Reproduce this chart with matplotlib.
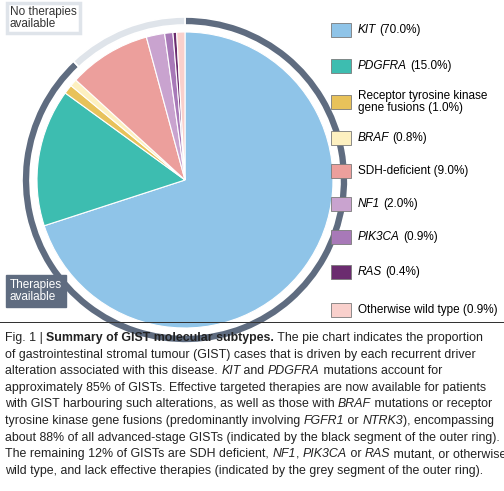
import matplotlib
matplotlib.use("Agg")
import matplotlib.pyplot as plt
from matplotlib.patches import Rectangle

plt.rcParams['font.family'] = ['Liberation Sans', 'DejaVu Sans']

labels = ["KIT", "PDGFRA", "Receptor tyrosine kinase\ngene fusions", "BRAF", "SDH-deficient",
          "NF1", "PIK3CA", "RAS", "Otherwise wild type"]
values = [70.0, 15.0, 1.0, 0.8, 9.0, 2.0, 0.9, 0.4, 0.9]
italic = [True, True, False, True, False, True, True, True, False]
colors = ["#8fc4e8", "#3dbdb0", "#e8c25a", "#fdf0c0", "#ec9f9c", "#c9a3cf", "#a879b8", "#6b2c6f", "#f9d0cc"]
ring_values = [88, 12]
ring_colors = ["#5f6c80", "#dfe4ea"]

W, H = 504, 491
fig = plt.figure(figsize=(W / 100, H / 100), dpi=100)

cx, cy, half = 185, 180, 170
ax = fig.add_axes([(cx - half) / W, (H - cy - half) / H, 2 * half / W, 2 * half / H])
ax.pie(values, colors=colors, radius=148, startangle=90, counterclock=False,
       wedgeprops=dict(edgecolor='white', linewidth=0.8))
ax.pie(ring_values, colors=ring_colors, radius=163, startangle=90, counterclock=False,
       wedgeprops=dict(width=8, edgecolor='white', linewidth=1.2))
ax.set_xlim(-half, half)
ax.set_ylim(-half, half)
ax.set_aspect('equal')
ax.axis('off')

# ring labels
fig.text(10 / W, 1 - 18 / H, "No therapies\navailable", fontsize=8.5, color="#333333", va='center',
         linespacing=1.0,
         bbox=dict(boxstyle='square,pad=0.25', fc='white', ec='#dfe4ea', lw=2.5))
fig.text(10 / W, 1 - 291 / H, "Therapies\navailable", fontsize=8.5, color="white", va='center',
         linespacing=1.0,
         bbox=dict(boxstyle='square,pad=0.3', fc='#5f6c80', ec='#5f6c80'))

# legend
renderer = fig.canvas.get_renderer()
rows = [30, 66, 102, 138, 171, 204, 237, 272, 310]
for lab, v, it, c, y in zip(labels, values, italic, colors, rows):
    fig.patches.append(Rectangle((331 / W, 1 - (y + 7) / H), 20 / W, 14 / H, transform=fig.transFigure,
                                 fc=c, ec='#7a7a7a', lw=0.6))
    if it:
        t = fig.text(358 / W, 1 - y / H, lab, fontsize=8.5, style='italic', va='center')
        bb = t.get_window_extent(renderer)
        fig.text(bb.x1 / W + 3 / W, 1 - y / H, f"({v:.1f}%)", fontsize=8.5, va='center')
    else:
        fig.text(358 / W, 1 - y / H, f"{lab} ({v:.1f}%)", fontsize=8.5, va='center', linespacing=1.1)

# caption
caption = [
    [("Fig. 1 | ", 'n'), ("Summary of GIST molecular subtypes.", 'b'), (" The pie chart indicates the proportion", 'n')],
    [("of gastrointestinal stromal tumour (GIST) cases that is driven by each recurrent driver", 'n')],
    [("alteration associated with this disease. ", 'n'), ("KIT", 'i'), (" and ", 'n'), ("PDGFRA", 'i'), (" mutations account for", 'n')],
    [("approximately 85% of GISTs. Effective targeted therapies are now available for patients", 'n')],
    [("with GIST harbouring such alterations, as well as those with ", 'n'), ("BRAF", 'i'), (" mutations or receptor", 'n')],
    [("tyrosine kinase gene fusions (predominantly involving ", 'n'), ("FGFR1", 'i'), (" or ", 'n'), ("NTRK3", 'i'), ("), encompassing", 'n')],
    [("about 88% of all advanced-stage GISTs (indicated by the black segment of the outer ring).", 'n')],
    [("The remaining 12% of GISTs are SDH deficient, ", 'n'), ("NF1", 'i'), (", ", 'n'), ("PIK3CA", 'i'), (" or ", 'n'), ("RAS", 'i'), (" mutant, or otherwise", 'n')],
    [("wild type, and lack effective therapies (indicated by the grey segment of the outer ring).", 'n')],
]
fig.patches.append(Rectangle((0, 1 - 323 / H), 1, 1 / H, transform=fig.transFigure, fc='#333333', ec='none'))
for i, line in enumerate(caption):
    y = 1 - (338 + i * 16.6) / H
    x = 5
    for seg, st in line:
        kw = dict(fontsize=8.9, va='center', color='#222222')
        if st == 'b':
            kw['weight'] = 'bold'
        if st == 'i':
            kw['style'] = 'italic'
        t = fig.text(x / W, y, seg, **kw)
        x = t.get_window_extent(renderer).x1

fig.savefig("out.png", dpi=100)
